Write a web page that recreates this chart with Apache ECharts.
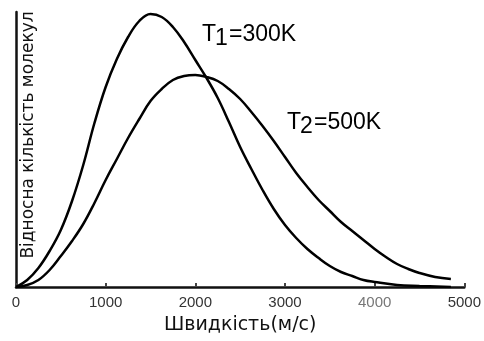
<!DOCTYPE html>
<html>
<head>
<meta charset="utf-8">
<script src="https://cdn.jsdelivr.net/npm/echarts@6/dist/echarts.min.js"></script>
<style>
  html, body { margin: 0; padding: 0; background: #fff; }
  #chart { width: 484px; height: 341px; }
</style>
</head>
<body>
<div id="chart"></div>
<script>
// швидкість (м/с) і відносна кількість молекул (у.о.)
const t1Speed = [0, 125, 250, 375, 500, 625, 750, 875, 1000, 1125, 1250, 1375, 1500, 1625, 1750, 1875, 2000, 2125, 2250, 2375, 2500, 2625, 2750, 2875, 3000, 3125, 3250, 3375, 3500, 3625, 3750, 3875, 4000, 4250, 4500, 4850]
const t1Value = [0, 7, 19, 36, 57, 86, 122, 164, 200, 228, 250, 266, 273, 270, 260, 245, 227, 209, 189, 165, 140, 118, 97, 78, 62, 49, 38, 29, 21, 15, 11, 7, 5, 2, 1, 0]

const t2Speed = [0, 125, 250, 375, 500, 625, 750, 875, 1000, 1125, 1250, 1375, 1500, 1625, 1750, 1875, 2000, 2125, 2250, 2375, 2500, 2625, 2750, 2875, 3000, 3125, 3250, 3375, 3500, 3625, 3750, 3875, 4000, 4125, 4250, 4375, 4500, 4675, 4850]
const t2Value = [0, 2, 7, 17, 31, 46, 63, 84, 107, 128, 149, 168, 186, 198, 207, 211, 212, 210, 206, 198, 188, 175, 161, 146, 130, 114, 100, 87, 76, 65, 56, 47, 38, 30, 23, 18, 14, 10, 8]

const xTicks = [0, 1000, 2000, 3000, 4000, 5000]

const chart = echarts.init(document.getElementById('chart'))

const pairs = (xs, ys) => xs.map((x, i) => [x, ys[i]])

// підписи температур з нижнім індексом
function label(x, y, sub, rest) {
    const font = '23px "Liberation Sans", Arial, sans-serif'
    return {
        type: 'group',
        x: x,
        y: y,
        children: [
            { type: 'text', x: 0, y: 0, style: { text: 'T', font: font, fill: '#000', textVerticalAlign: 'middle' } },
            { type: 'text', x: 13, y: 4, style: { text: sub, font: font, fill: '#000', textVerticalAlign: 'middle' } },
            { type: 'text', x: 27, y: 0, style: { text: rest, font: font, fill: '#000', textVerticalAlign: 'middle' } }
        ]
    }
}

const option = {
    animation: false,
    backgroundColor: '#fff',
    grid: { left: 16, right: 18, top: 12, bottom: 54 },
    xAxis: {
        type: 'value',
        min: xTicks[0],
        max: xTicks[xTicks.length - 1],
        interval: 1000,
        name: 'Швидкість(м/с)',
        nameLocation: 'middle',
        nameGap: 29,
        nameTextStyle: { fontFamily: 'DejaVu Sans', fontSize: 19, color: '#111' },
        axisLine: { lineStyle: { color: '#111', width: 2.5 } },
        axisTick: { show: true, inside: true, length: 4, lineStyle: { color: '#444', width: 2 } },
        axisLabel: {
            margin: 8,
            fontFamily: '"Liberation Sans", Arial, sans-serif',
            fontSize: 15,
            color: '#333',
            formatter: v => (v === 4000 ? '{g|' + v + '}' : String(v)),
            rich: { g: { color: '#777', fontSize: 15, fontFamily: '"Liberation Sans", Arial, sans-serif' } }
        },
        splitLine: { show: false }
    },
    yAxis: {
        type: 'value',
        min: 0,
        max: 275,
        axisLine: { show: true, lineStyle: { color: '#111', width: 2.5 } },
        axisTick: { show: false },
        axisLabel: { show: false },
        splitLine: { show: false }
    },
    graphic: [
        {
            type: 'text',
            x: 29,
            y: 135,
            rotation: Math.PI / 2,
            style: {
                text: 'Відносна кількість молекул',
                font: '17px "DejaVu Sans"',
                fill: '#111',
                textAlign: 'center',
                textVerticalAlign: 'middle'
            }
        },
        label(202, 35, '1', '=300K'),
        label(287, 123, '2', '=500K')
    ],
    series: [
        {
            name: 'T1=300K',
            type: 'line',
            smooth: 0.4,
            showSymbol: false,
            data: pairs(t1Speed, t1Value),
            lineStyle: { color: '#000', width: 2.5 }
        },
        {
            name: 'T2=500K',
            type: 'line',
            smooth: 0.4,
            showSymbol: false,
            data: pairs(t2Speed, t2Value),
            lineStyle: { color: '#000', width: 2.5 }
        }
    ]
}

chart.setOption(option)
</script>
</body>
</html>
